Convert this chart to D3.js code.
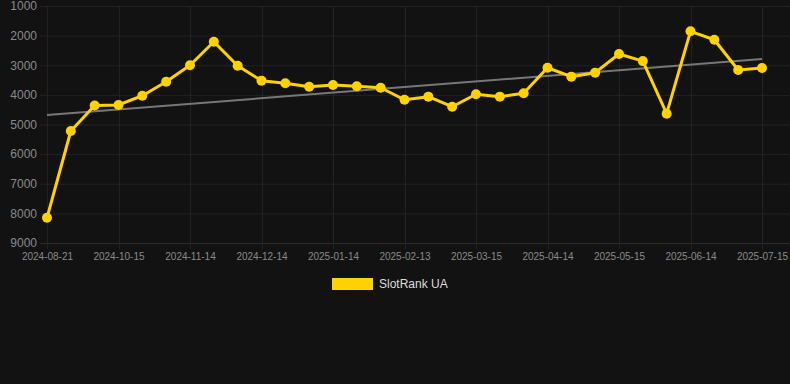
<!DOCTYPE html>
<html>
<head>
<meta charset="utf-8">
<script src="https://cdn.jsdelivr.net/npm/d3@7"></script>
<style>
  html, body { margin: 0; padding: 0; background: #121212; }
  svg { display: block; }
</style>
</head>
<body>
<svg id="chart" width="790" height="384"></svg>
<script>
const dates = [
  "2024-08-21","2024-09-08","2024-09-26","2024-10-15","2024-10-25","2024-11-04",
  "2024-11-14","2024-11-24","2024-12-04","2024-12-14","2024-12-24","2025-01-04",
  "2025-01-14","2025-01-24","2025-02-03","2025-02-13","2025-02-23","2025-03-05",
  "2025-03-15","2025-03-25","2025-04-04","2025-04-14","2025-04-24","2025-05-04",
  "2025-05-15","2025-05-25","2025-06-04","2025-06-14","2025-06-24","2025-07-04",
  "2025-07-15"
];
const rankValues = [
  8150, 5220, 4360, 4340, 4030, 3555,
  3000, 2205, 3015, 3520, 3610, 3725,
  3665, 3710, 3760, 4165, 4060, 4400,
  3980, 4060, 3945, 3085, 3385, 3250,
  2620, 2860, 4635, 1855, 2140, 3160,
  3095
];
const trendEnds = [4680, 2790];
const yTicks = [1000, 2000, 3000, 4000, 5000, 6000, 7000, 8000, 9000];
const seriesName = "SlotRank UA";

const svg = d3.select("#chart");
const W = 790, H = 384;
svg.append("rect").attr("width", W).attr("height", H).attr("fill", "#121212");

const x = d3.scalePoint().domain(dates).range([47, 762]);
const y = d3.scaleLinear().domain([1000, 9000]).range([6, 243]);
const gridLeft = 40, gridRight = 790;

const labelDates = dates.filter((d, i) => i % 3 === 0);

// horizontal grid
svg.append("g").selectAll("line").data(yTicks).join("line")
  .attr("x1", gridLeft).attr("x2", gridRight)
  .attr("y1", d => y(d) + 0.5).attr("y2", d => y(d) + 0.5)
  .attr("stroke", d => d === 9000 ? "#2c2c2c" : "#222222").attr("stroke-width", 1);

// vertical grid
svg.append("g").selectAll("line").data(labelDates).join("line")
  .attr("x1", d => Math.round(x(d)) + 0.5).attr("x2", d => Math.round(x(d)) + 0.5)
  .attr("y1", 6).attr("y2", 249)
  .attr("stroke", "#222222").attr("stroke-width", 1);

// y axis labels
const yAxis = d3.axisLeft(y).tickValues(yTicks).tickSize(0).tickPadding(0).tickFormat(d => d);
const gy = svg.append("g").attr("transform", "translate(37,0)").call(yAxis);
gy.select(".domain").remove();
gy.selectAll("text").attr("fill", "#8a8a8a").attr("font-size", "12px")
  .attr("font-family", "Liberation Sans, Arial, sans-serif");

// x axis labels
const xAxis = d3.axisBottom(x).tickValues(labelDates).tickSize(0).tickPadding(0);
const gx = svg.append("g").attr("transform", "translate(0,253)").call(xAxis);
gx.select(".domain").remove();
gx.selectAll("text").attr("fill", "#8a8a8a").attr("font-size", "10px")
  .attr("font-family", "Liberation Sans, Arial, sans-serif").attr("dy", "0.71em");

// trend line
svg.append("line")
  .attr("x1", x(dates[0])).attr("y1", y(trendEnds[0]))
  .attr("x2", x(dates[dates.length - 1])).attr("y2", y(trendEnds[1]))
  .attr("stroke", "#777777").attr("stroke-width", 2);

// series line
const line = d3.line().x((d, i) => x(dates[i])).y(d => y(d));
svg.append("path").datum(rankValues)
  .attr("d", line).attr("fill", "none")
  .attr("stroke", "#FFD200").attr("stroke-width", 3).attr("stroke-linejoin", "round");

svg.append("g").selectAll("circle").data(rankValues).join("circle")
  .attr("cx", (d, i) => x(dates[i])).attr("cy", d => y(d)).attr("r", 5)
  .attr("fill", "#FFD200");

// legend
const lg = svg.append("g");
lg.append("rect").attr("x", 332).attr("y", 278).attr("width", 41).attr("height", 12).attr("fill", "#FFD200");
lg.append("text").attr("x", 379).attr("y", 284).attr("dy", "0.35em")
  .attr("fill", "#dddddd").attr("font-size", "12px")
  .attr("font-family", "Liberation Sans, Arial, sans-serif").text(seriesName);
</script>
</body>
</html>
